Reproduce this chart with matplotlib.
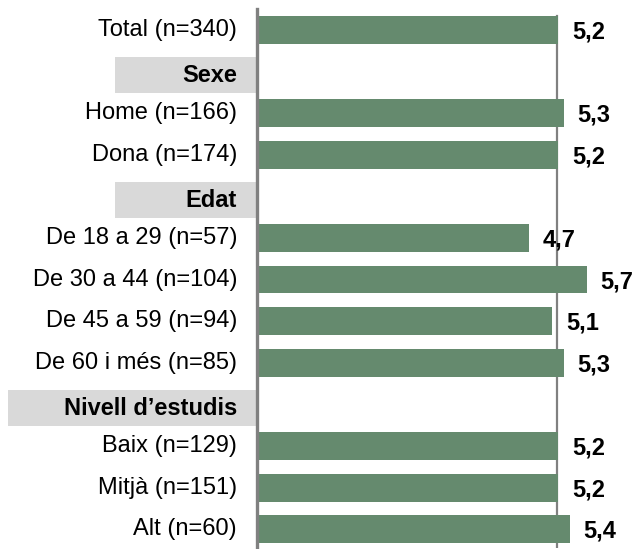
import matplotlib.pyplot as plt
import matplotlib.transforms as mtransforms
from matplotlib.patches import Rectangle
import numpy as np

plt.rcParams['font.family'] = ['Liberation Sans', 'DejaVu Sans']

# files del gràfic (None = capçalera de secció)
etiquetes = ["Total (n=340)", "Sexe", "Home (n=166)", "Dona (n=174)", "Edat",
             "De 18 a 29 (n=57)", "De 30 a 44 (n=104)", "De 45 a 59 (n=94)",
             "De 60 i més (n=85)", "Nivell d’estudis", "Baix (n=129)",
             "Mitjà (n=151)", "Alt (n=60)"]
valors = [5.2, None, 5.3, 5.2, None, 4.7, 5.7, 5.1, 5.3, None, 5.2, 5.2, 5.4]
mitjana_total = 5.2

# on comença la caixa grisa de cada capçalera (fracció de la figura)
inici_caixa = {"Sexe": 115 / 639, "Edat": 115 / 639, "Nivell d’estudis": 8 / 639}

color_barra = "#658A6E"
color_gris = "#808080"
mida = 17

fig = plt.figure(figsize=(6.39, 5.49), dpi=100)
ax = fig.add_axes([257 / 639, 1 / 549, 1 - 257 / 639 - 14 / 639, 539 / 549])

y = np.arange(len(etiquetes))
ax.set_ylim(12.45, -0.5)
ax.set_xlim(0, 368 / 57.6)

# línia de referència amb la mitjana total
ax.plot([mitjana_total, mitjana_total], [-0.33, 12.45], color=color_gris, lw=1.6, zorder=1)

trans = mtransforms.blended_transform_factory(fig.transFigure, ax.transData)
for i, (etq, v) in enumerate(zip(etiquetes, valors)):
    if v is None:
        ax.add_patch(Rectangle((inici_caixa[etq], i - 0.44 + 0.1), 257 / 639 - inici_caixa[etq], 0.87,
                               transform=trans, facecolor="#D9D9D9", edgecolor="none", clip_on=False))
        ax.text(237 / 639, i + 0.1, etq, transform=trans, ha="right", va="center",
                fontsize=mida, fontweight="bold")
    else:
        ax.barh(i, v, height=0.67, left=0.03, color=color_barra, zorder=2)
        ax.text(237 / 639, i, etq, transform=trans, ha="right", va="center", fontsize=mida)
        ax.annotate(f"{v:.1f}".replace(".", ","), (v, i), xytext=(11, -1.5), textcoords="offset points",
                    ha="left", va="center", fontsize=mida, fontweight="bold", zorder=3)

for s in ["top", "right", "bottom"]:
    ax.spines[s].set_visible(False)
ax.spines["left"].set_color(color_gris)
ax.spines["left"].set_linewidth(2.4)
ax.set_xticks([])
ax.set_yticks([])

fig.savefig("out.png", dpi=100)
